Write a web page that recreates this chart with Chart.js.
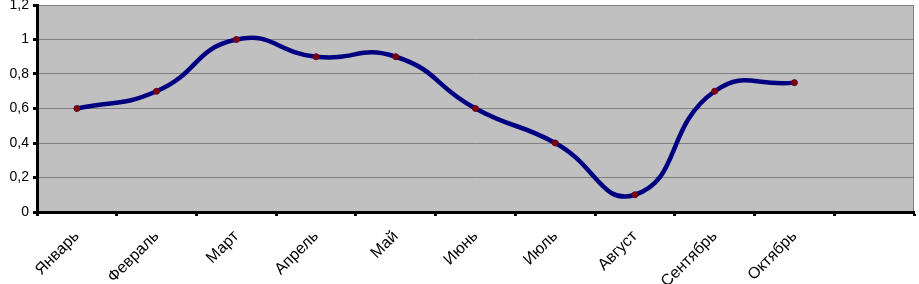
<!DOCTYPE html>
<html>
<head>
<meta charset="utf-8">
<script src="https://cdn.jsdelivr.net/npm/chart.js@4/dist/chart.umd.min.js"></script>
<style>
  html, body { margin: 0; padding: 0; background: #fff; }
  #wrap { width: 919px; height: 284px; }
</style>
</head>
<body>
<div id="wrap"><canvas id="chart"></canvas></div>
<script>
// месяцы (последний слот пустой, как в оригинале)
const months = ['Январь', 'Февраль', 'Март', 'Апрель', 'Май', 'Июнь', 'Июль', 'Август', 'Сентябрь', 'Октябрь', ''];
const values = [0.6, 0.7, 1.0, 0.9, 0.9, 0.6, 0.4, 0.1, 0.7, 0.75, null];
const yTicks = [0, 0.2, 0.4, 0.6, 0.8, 1, 1.2];

// серый фон области построения
const plotBg = {
    id: 'plotBg',
    beforeDraw(chart) {
        const { ctx, chartArea: a } = chart;
        ctx.save();
        ctx.fillStyle = '#C0C0C0';
        ctx.fillRect(a.left, a.top, a.right - a.left, a.bottom - a.top);
        ctx.strokeStyle = '#808080';
        ctx.lineWidth = 1;
        ctx.strokeRect(a.left + 0.5, a.top + 0.5, a.right - a.left - 1, a.bottom - a.top);
        ctx.restore();
    }
};

const ctx = document.getElementById('chart').getContext('2d');
new Chart(ctx, {
    type: 'line',
    data: {
        labels: months,
        datasets: [{
            data: values,
            borderColor: '#000080',
            borderWidth: 4.5,
            tension: 0.5,
            pointRadius: 3,
            pointBackgroundColor: '#800000',
            pointBorderColor: '#600030',
            pointBorderWidth: 1,
            fill: false
        }]
    },
    options: {
        responsive: true,
        maintainAspectRatio: false,
        animation: false,
        layout: { padding: { top: 5, right: 2, left: 0, bottom: 0 } },
        elements: { line: { capBezierPoints: false } },
        plugins: {
            legend: { display: false },
            tooltip: { enabled: false }
        },
        scales: {
            x: {
                offset: true,
                grid: {
                    offset: true,
                    drawOnChartArea: false,
                    drawTicks: true,
                    tickLength: 4,
                    tickColor: '#000',
                    tickWidth: 3
                },
                border: { color: '#000', width: 3 },
                ticks: {
                    color: '#000',
                    font: { family: 'Liberation Sans', size: 16 },
                    maxRotation: 45,
                    minRotation: 45,
                    autoSkip: false,
                    padding: 11
                },
                afterFit(scale) { scale.height = 72; }
            },
            y: {
                min: 0,
                max: 1.2,
                afterBuildTicks(scale) { scale.ticks = yTicks.map(v => ({ value: v })); },
                grid: {
                    color: '#808080',
                    lineWidth: 1,
                    drawTicks: true,
                    tickLength: 4,
                    tickColor: '#000',
                    tickWidth: 3
                },
                border: { color: '#000', width: 3 },
                ticks: {
                    color: '#000',
                    font: { family: 'Liberation Sans', size: 14 },
                    padding: 4,
                    callback: v => (Math.round(v * 10) / 10).toString().replace('.', ',')
                },
                afterFit(scale) {
                    scale.width = 37;
                    scale.paddingTop = 0;
                }
            }
        }
    },
    plugins: [plotBg]
});
</script>
</body>
</html>
